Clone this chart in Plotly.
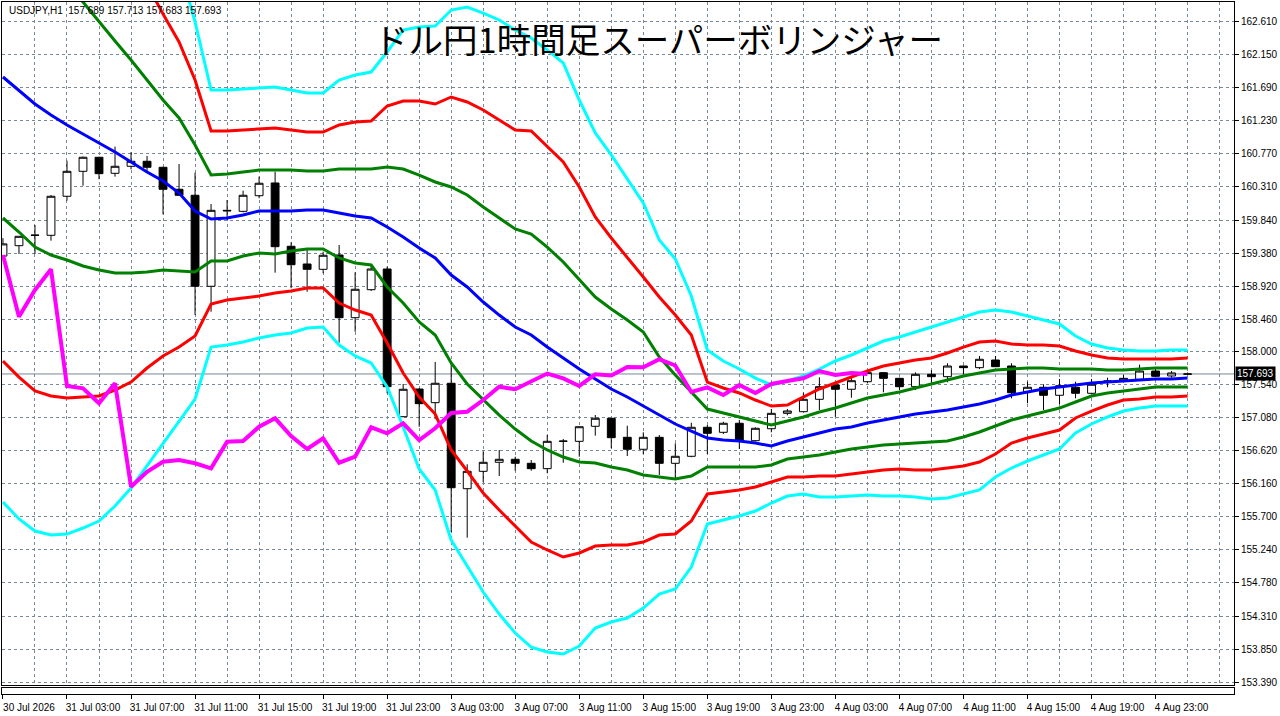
import plotly.graph_objects as go

# hourly bars, 30 Jul 23:00 .. 5 Aug 01:00 (weekend removed)
bars = list(range(75))

tick_pos = [0, 4, 8, 12, 16, 20, 24, 28, 32, 36, 40, 44, 48, 52, 56, 60, 64, 68, 72]
tick_labels = ["30 Jul 2026", "31 Jul 03:00", "31 Jul 07:00", "31 Jul 11:00", "31 Jul 15:00",
               "31 Jul 19:00", "31 Jul 23:00", "3 Aug 03:00", "3 Aug 07:00", "3 Aug 11:00",
               "3 Aug 15:00", "3 Aug 19:00", "3 Aug 23:00", "4 Aug 03:00", "4 Aug 07:00",
               "4 Aug 11:00", "4 Aug 15:00", "4 Aug 19:00", "4 Aug 23:00"]

price_ticks = [162.610, 162.150, 161.690, 161.230, 160.770, 160.310, 159.840, 159.380, 158.920,
               158.460, 158.000, 157.540, 157.080, 156.620, 156.160, 155.700, 155.240, 154.780,
               154.310, 153.850, 153.390]

opens = [159.340, 159.485, 159.630, 159.630, 160.175, 160.524, 160.720, 160.496, 160.594, 160.664,
         160.580, 160.273, 160.189, 158.918, 159.979, 159.965, 160.183, 160.361, 159.477, 159.229,
         159.155, 159.355, 158.479, 158.870, 159.159, 157.096, 157.483, 157.292, 157.563, 156.090,
         156.333, 156.459, 156.501, 156.445, 156.370, 156.752, 156.752, 156.962, 157.074, 156.808,
         156.641, 156.808, 156.445, 156.543, 156.948, 156.878, 157.004, 156.761, 156.928, 157.143,
         157.166, 157.339, 157.540, 157.479, 157.585, 157.711, 157.632, 157.515, 157.688, 157.655,
         157.804, 157.781, 157.888, 157.804, 157.445, 157.507, 157.395, 157.507, 157.423, 157.585,
         157.609, 157.618, 157.734, 157.665, 157.689]
highs = [159.590, 159.616, 159.774, 160.193, 160.672, 160.730, 160.725, 160.868, 160.790, 160.738,
         160.585, 160.626, 160.505, 160.067, 160.123, 160.253, 160.449, 160.519, 159.532, 159.425,
         159.401, 159.495, 159.113, 159.225, 159.192, 157.553, 157.490, 157.860, 157.850, 156.431,
         156.613, 156.631, 156.537, 156.491, 156.840, 156.785, 156.960, 157.120, 157.078, 156.970,
         156.878, 156.840, 156.724, 157.012, 156.980, 157.026, 157.050, 156.948, 157.204, 157.204,
         157.431, 157.646, 157.585, 157.655, 157.720, 157.720, 157.640, 157.716, 157.748, 157.842,
         157.810, 157.944, 157.944, 157.842, 157.585, 157.549, 157.623, 157.585, 157.623, 157.641,
         157.679, 157.823, 157.762, 157.734, 157.713]
lows = [159.310, 159.369, 159.369, 159.555, 160.114, 160.323, 160.413, 160.449, 160.552, 160.519,
        159.924, 160.180, 158.517, 158.563, 159.844, 159.950, 160.147, 159.108, 158.890, 158.842,
        159.099, 158.130, 158.283, 158.852, 157.423, 157.090, 156.956, 157.060, 155.485, 155.406,
        156.180, 156.268, 156.342, 156.342, 156.305, 156.453, 156.537, 156.831, 156.655, 156.547,
        156.575, 156.282, 156.236, 156.530, 156.575, 156.854, 156.645, 156.750, 156.878, 157.116,
        157.160, 157.190, 157.096, 157.361, 157.562, 157.437, 157.469, 157.469, 157.571, 157.577,
        157.688, 157.762, 157.790, 157.353, 157.283, 157.190, 157.273, 157.353, 157.420, 157.507,
        157.585, 157.610, 157.655, 157.641, 157.683]
closes = [159.510, 159.616, 159.632, 160.175, 160.524, 160.720, 160.491, 160.594, 160.664, 160.580,
          160.273, 160.189, 158.918, 159.979, 159.972, 160.189, 160.357, 159.471, 159.219, 159.155,
          159.351, 158.479, 158.876, 159.159, 157.515, 157.479, 157.278, 157.563, 156.104, 156.333,
          156.459, 156.501, 156.445, 156.370, 156.752, 156.755, 156.956, 157.074, 156.803, 156.641,
          156.808, 156.445, 156.543, 156.948, 156.864, 157.004, 156.761, 156.934, 157.143, 157.176,
          157.339, 157.515, 157.479, 157.599, 157.711, 157.632, 157.515, 157.688, 157.655, 157.804,
          157.781, 157.898, 157.795, 157.431, 157.507, 157.395, 157.529, 157.423, 157.549, 157.595,
          157.632, 157.734, 157.660, 157.707, 157.693]

# super bollinger: middle line and +-1, 2, 3 sigma bands
mid = [161.841, 161.646, 161.464, 161.310, 161.171, 161.045, 160.919, 160.794, 160.654, 160.514,
       160.388, 160.221, 159.969, 159.858, 159.872, 159.913, 159.969, 159.969, 159.969, 159.983,
       159.983, 159.941, 159.900, 159.872, 159.746, 159.606, 159.452, 159.313, 159.075, 158.908,
       158.698, 158.516, 158.349, 158.237, 158.069, 157.916, 157.762, 157.622, 157.483, 157.371,
       157.245, 157.119, 156.994, 156.896, 156.798, 156.770, 156.756, 156.728, 156.686, 156.756,
       156.812, 156.868, 156.924, 156.952, 157.008, 157.050, 157.092, 157.133, 157.161, 157.189,
       157.231, 157.273, 157.329, 157.399, 157.441, 157.483, 157.511, 157.539, 157.567, 157.580,
       157.594, 157.608, 157.622, 157.622, 157.636]
up1 = [163.965, 163.783, 163.588, 163.364, 163.113, 162.889, 162.610, 162.344, 162.079, 161.799,
       161.520, 161.269, 160.891, 160.472, 160.486, 160.514, 160.542, 160.542, 160.542, 160.528,
       160.528, 160.556, 160.556, 160.556, 160.584, 160.556, 160.472, 160.375, 160.305, 160.193,
       160.025, 159.872, 159.718, 159.648, 159.466, 159.257, 159.005, 158.768, 158.600, 158.447,
       158.279, 157.930, 157.678, 157.441, 157.203, 157.147, 157.092, 157.036, 156.980, 157.036,
       157.092, 157.161, 157.217, 157.287, 157.357, 157.399, 157.441, 157.497, 157.553, 157.608,
       157.664, 157.706, 157.748, 157.762, 157.776, 157.776, 157.762, 157.762, 157.762, 157.748,
       157.748, 157.762, 157.776, 157.776, 157.776]
up2 = [165.809, 165.641, 165.474, 165.236, 164.985, 164.705, 164.384, 163.965, 163.546, 163.127,
       162.721, 162.330, 161.799, 161.087, 161.087, 161.101, 161.115, 161.129, 161.101, 161.073,
       161.073, 161.171, 161.213, 161.227, 161.436, 161.506, 161.506, 161.464, 161.562, 161.492,
       161.380, 161.241, 161.101, 161.087, 160.863, 160.654, 160.305, 159.886, 159.592, 159.327,
       159.047, 158.768, 158.516, 158.237, 157.580, 157.497, 157.427, 157.329, 157.245, 157.259,
       157.371, 157.483, 157.567, 157.650, 157.734, 157.804, 157.846, 157.888, 157.916, 157.986,
       158.069, 158.139, 158.153, 158.111, 158.097, 158.097, 158.083, 158.014, 157.958, 157.916,
       157.902, 157.902, 157.902, 157.902, 157.916]
up3 = [167.779, 167.625, 167.429, 167.178, 166.885, 166.549, 166.200, 165.739, 165.208, 164.621,
       164.049, 163.406, 162.610, 161.660, 161.660, 161.674, 161.688, 161.702, 161.660, 161.618,
       161.618, 161.799, 161.869, 161.911, 162.191, 162.498, 162.540, 162.554, 162.777, 162.819,
       162.735, 162.638, 162.498, 162.386, 162.219, 162.037, 161.520, 161.059, 160.752, 160.416,
       160.081, 159.564, 159.299, 158.782, 158.028, 157.874, 157.762, 157.636, 157.539, 157.594,
       157.664, 157.762, 157.874, 157.958, 158.055, 158.153, 158.209, 158.279, 158.349, 158.419,
       158.489, 158.558, 158.586, 158.558, 158.503, 158.447, 158.391, 158.223, 158.111, 158.055,
       158.028, 158.014, 158.014, 158.028, 158.028]
dn1 = [159.872, 159.676, 159.466, 159.355, 159.285, 159.201, 159.145, 159.103, 159.103, 159.117,
       159.145, 159.131, 159.117, 159.271, 159.271, 159.341, 159.383, 159.369, 159.411, 159.439,
       159.439, 159.313, 159.243, 159.215, 158.908, 158.684, 158.419, 158.237, 157.846, 157.553,
       157.329, 157.119, 156.924, 156.756, 156.631, 156.533, 156.463, 156.449, 156.393, 156.351,
       156.281, 156.253, 156.225, 156.267, 156.393, 156.393, 156.393, 156.393, 156.421, 156.505,
       156.533, 156.561, 156.603, 156.645, 156.672, 156.700, 156.714, 156.728, 156.742, 156.756,
       156.812, 156.882, 156.966, 157.050, 157.106, 157.161, 157.217, 157.301, 157.385, 157.427,
       157.455, 157.483, 157.511, 157.511, 157.511]
dn2 = [157.874, 157.650, 157.455, 157.385, 157.357, 157.371, 157.385, 157.469, 157.580, 157.776,
       157.944, 158.069, 158.223, 158.670, 158.726, 158.754, 158.782, 158.824, 158.852, 158.894,
       158.894, 158.684, 158.586, 158.516, 158.125, 157.706, 157.371, 157.133, 156.631, 156.337,
       156.030, 155.792, 155.569, 155.345, 155.234, 155.136, 155.192, 155.289, 155.303, 155.303,
       155.345, 155.443, 155.457, 155.639, 156.016, 156.044, 156.072, 156.114, 156.184, 156.253,
       156.253, 156.267, 156.267, 156.295, 156.323, 156.351, 156.365, 156.351, 156.351, 156.379,
       156.407, 156.463, 156.575, 156.728, 156.798, 156.854, 156.910, 157.078, 157.175, 157.259,
       157.329, 157.343, 157.371, 157.371, 157.385]
dn3 = [155.904, 155.667, 155.499, 155.443, 155.457, 155.541, 155.639, 155.848, 156.100, 156.407,
       156.728, 157.036, 157.343, 158.069, 158.097, 158.139, 158.195, 158.237, 158.265, 158.335,
       158.349, 158.097, 157.944, 157.846, 157.511, 156.952, 156.365, 156.072, 155.373, 155.010,
       154.647, 154.339, 154.074, 153.878, 153.809, 153.781, 153.892, 154.144, 154.228, 154.284,
       154.423, 154.619, 154.689, 154.996, 155.597, 155.653, 155.709, 155.778, 155.890, 155.988,
       156.016, 155.974, 155.974, 155.988, 156.002, 155.988, 155.988, 155.974, 155.946, 155.960,
       156.016, 156.072, 156.253, 156.379, 156.477, 156.561, 156.645, 156.868, 156.994, 157.092,
       157.175, 157.217, 157.245, 157.245, 157.245]

# lagging span (magenta), first 55 bars
lag = [159.355, 158.493, 158.866, 159.155, 157.525, 157.492, 157.283, 157.562, 156.118, 156.327,
       156.467, 156.491, 156.445, 156.375, 156.747, 156.756, 156.956, 157.073, 156.826, 156.645,
       156.794, 156.453, 156.537, 156.948, 156.864, 157.004, 156.770, 156.934, 157.147, 157.166,
       157.329, 157.515, 157.479, 157.594, 157.699, 157.632, 157.525, 157.688, 157.671, 157.790,
       157.786, 157.898, 157.811, 157.441, 157.506, 157.399, 157.539, 157.427, 157.553, 157.594,
       157.632, 157.734, 157.678, 157.706, 157.692]

FONT = "Liberation Sans"
GRID = "#778899"

fig = go.Figure()

fig.add_trace(go.Candlestick(
    x=bars, open=opens, high=highs, low=lows, close=closes,
    increasing=dict(fillcolor="white", line=dict(color="black", width=1)),
    decreasing=dict(fillcolor="black", line=dict(color="black", width=1)),
    whiskerwidth=0, showlegend=False, hoverinfo="skip"))

bands = [(up3, "#00FFFF"), (dn3, "#00FFFF"), (up2, "#FF0000"), (dn2, "#FF0000"),
         (up1, "#008000"), (dn1, "#008000"), (mid, "#0000FF")]
for vals, col in bands:
    fig.add_trace(go.Scatter(x=bars, y=vals, mode="lines", line=dict(color=col, width=3),
                             showlegend=False, hoverinfo="skip"))

fig.add_trace(go.Scatter(x=bars[:len(lag)], y=lag, mode="lines",
                         line=dict(color="#FF00FF", width=4), showlegend=False, hoverinfo="skip"))

# sub window strip under the main chart, carries the time axis
fig.add_trace(go.Scatter(x=[bars[0]], y=[0.5], mode="markers", marker=dict(opacity=0),
                         xaxis="x2", yaxis="y2", showlegend=False, hoverinfo="skip"))

last = closes[-1]
fig.add_hline(y=last, line=dict(color=GRID, width=1), layer="below")

fig.add_annotation(x=1, xref="paper", y=last, yref="y", xanchor="left", yanchor="middle",
                   xshift=1, text=f"{last:.3f}", showarrow=False, bgcolor="black",
                   font=dict(family=FONT, size=10, color="white"), borderpad=1)
fig.add_annotation(x=0.004, xref="paper", y=0.987, yref="paper", xanchor="left",
                   yanchor="middle", showarrow=False,
                   text=f"USDJPY,H1  {opens[-1]:.3f} {highs[-1]:.3f} {lows[-1]:.3f} {closes[-1]:.3f}",
                   font=dict(family=FONT, size=10, color="black"))
fig.add_annotation(x=0.300, xref="paper", y=0.948, yref="paper", xanchor="left",
                   yanchor="middle", showarrow=False, text="ドル円1時間足スーパーボリンジャー",
                   font=dict(family="Noto Sans CJK JP", size=34.5, color="black"))

xr = [-0.06, 76.9]
fig.update_layout(
    width=1280, height=716,
    margin=dict(l=2, r=46, t=2, b=22),
    paper_bgcolor="white", plot_bgcolor="white",
    font=dict(family=FONT, size=10, color="black"),
    showlegend=False,
    xaxis=dict(range=xr, anchor="y", showticklabels=False, ticks="", tick0=0, dtick=2,
               showgrid=True, gridcolor=GRID, griddash="3px,3px", gridwidth=1,
               showline=True, mirror=True, linecolor="black", linewidth=1,
               zeroline=False, rangeslider=dict(visible=False)),
    yaxis=dict(domain=[0.013, 1], range=[153.348, 162.889], side="right",
               tickvals=price_ticks, ticktext=[f"{v:.3f}" for v in price_ticks],
               ticks="outside", ticklen=4, tickcolor="black",
               showgrid=True, gridcolor=GRID, griddash="3px,3px", gridwidth=1,
               showline=True, mirror=True, linecolor="black", linewidth=1, zeroline=False),
    xaxis2=dict(range=xr, anchor="y2", matches="x", tickvals=tick_pos, ticktext=tick_labels,
                ticks="outside", ticklen=4, tickcolor="black", ticklabelshift=26,
                showgrid=False, showline=True, mirror=True, linecolor="black", linewidth=1,
                zeroline=False),
    yaxis2=dict(domain=[0, 0.0087], range=[0, 1], showticklabels=False, ticks="",
                showgrid=False, showline=True, mirror=True, linecolor="black", linewidth=1,
                zeroline=False),
)

fig.write_html("out.html", config={"displayModeBar": False},
               post_script="document.body.style.margin='0px';")
